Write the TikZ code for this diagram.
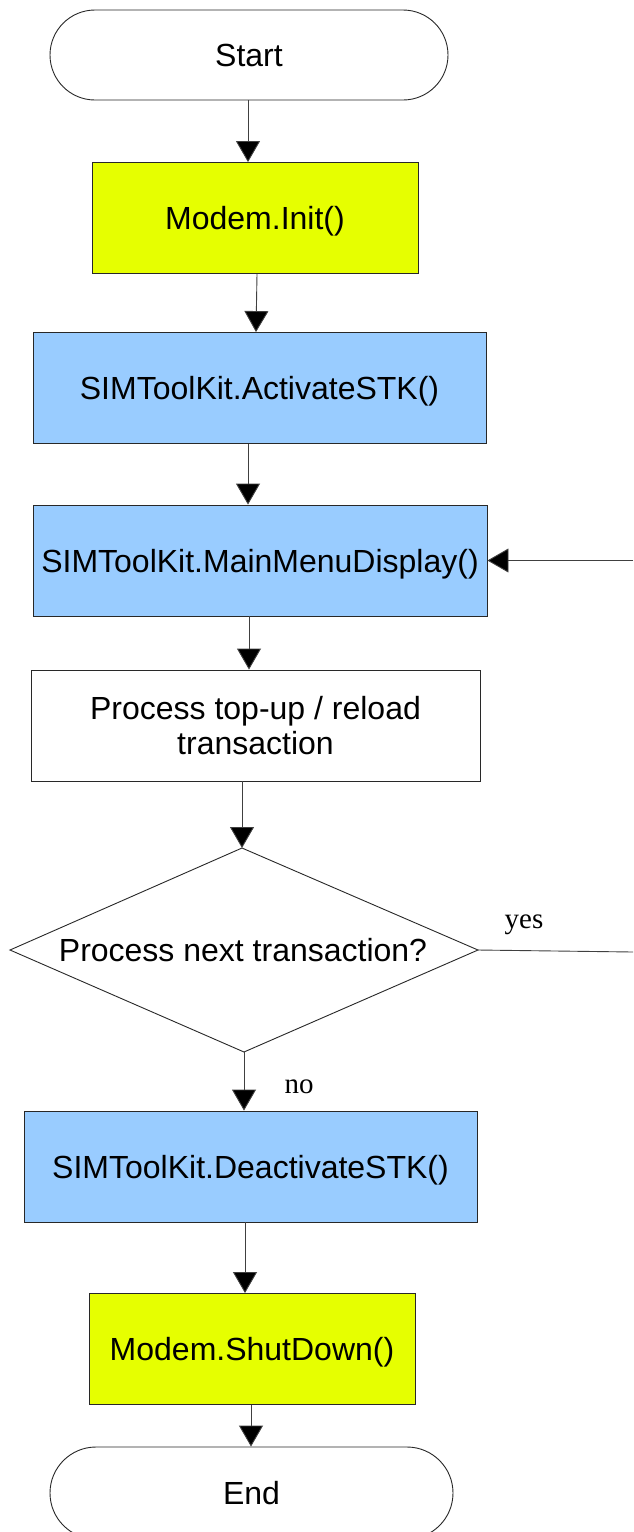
\documentclass[tikz,border=0pt]{standalone}
\usepackage{fontspec}
\setmainfont{Liberation Sans}
\newfontfamily\serifyn{Liberation Serif}
\usetikzlibrary{arrows.meta,shapes.misc,calc}
\definecolor{ylw}{RGB}{230,255,0}
\definecolor{blu}{RGB}{153,204,255}
\definecolor{edge}{RGB}{40,40,40}
\begin{document}
\begin{tikzpicture}[x=1pt,y=-1pt,
  every node/.style={font=\fontsize{32}{36}\selectfont, inner sep=0pt},
  oneline/.style={text height=23pt, text depth=0pt},
  term/.style={rounded rectangle, draw=edge, line width=0.9pt, fill=white, oneline},
  procbox/.style={rectangle, draw=edge, line width=0.9pt, minimum height=111pt},
  arr/.style={draw=black!75, line width=0.9pt, -{Triangle[width=24pt,length=21pt,fill=black]}},
  plain/.style={draw=black!75, line width=0.9pt},
  lbl/.style={font=\serifyn\fontsize{29}{34}\selectfont}
]
\useasboundingbox (0,0) rectangle (633,1532);
\clip (0,0) rectangle (633,1532);
\fill[white] (0,0) rectangle (633,1532);

\node[term, minimum width=398pt, minimum height=90pt] (start) at (249,55) {Start};
\node[procbox, oneline, fill=ylw, minimum width=326pt] (init) at (255,218) {Modem.Init()};
\node[procbox, oneline, fill=blu, minimum width=453pt] (act) at (259.5,388) {SIMToolKit.ActivateSTK()};
\node[procbox, oneline, fill=blu, minimum width=454pt] (menu) at (260,560.5) {SIMToolKit.MainMenuDisplay()};
\node[procbox, fill=white, minimum width=449pt, align=center] (proc) at (255.5,725.5) {\raisebox{-3pt}{Process top-up / reload}\\\raisebox{-2pt}{transaction}};

\coordinate (dtop) at (242,848);
\coordinate (dright) at (478,950);
\coordinate (dbot) at (244,1052);
\coordinate (dleft) at (10,950);
\draw[edge, line width=0.9pt] (dtop) -- (dright) -- (dbot) -- (dleft) -- cycle;
\node[oneline] (dtext) at (243,950) {Process next transaction?};

\node[procbox, oneline, fill=blu, minimum width=453pt] (deact) at (250.5,1166.5) {SIMToolKit.DeactivateSTK()};
\node[procbox, oneline, fill=ylw, minimum width=326pt] (shut) at (252,1349) {Modem.ShutDown()};
\node[term, minimum width=403pt, minimum height=92pt] (end) at (251.5,1493) {End};

\draw[arr] ([xshift=-1pt]start.south) -- ([xshift=-1pt]start.south |- init.north);
\draw[arr] ([xshift=2pt]init.south) -- ([xshift=-3.5pt]act.north);
\draw[arr] ([xshift=-11.5pt]act.south) -- ([xshift=-11.5pt]act.south |- menu.north);
\draw[arr] ([xshift=-11pt]menu.south) -- ([xshift=-11pt]menu.south |- proc.north);
\draw[arr] (proc.south -| dtop) -- (dtop);
\draw[arr] (dbot) -- (dbot |- deact.north);
\draw[arr] ([xshift=-5.5pt]deact.south) -- ([xshift=-5.5pt]deact.south |- shut.north);
\draw[arr] ([xshift=-1pt]shut.south) -- ([xshift=-1pt]shut.south |- end.north);

\coordinate (yesend) at (633,952);
\coordinate (back) at (633,560.5);
\draw[plain] (dright) -- (yesend);
\draw[arr] (back) -- (menu.east);

\node[lbl] (yes) at (524,925) {yes};
\node[lbl] (no) at (299,1087) {no};
\end{tikzpicture}
\end{document}
